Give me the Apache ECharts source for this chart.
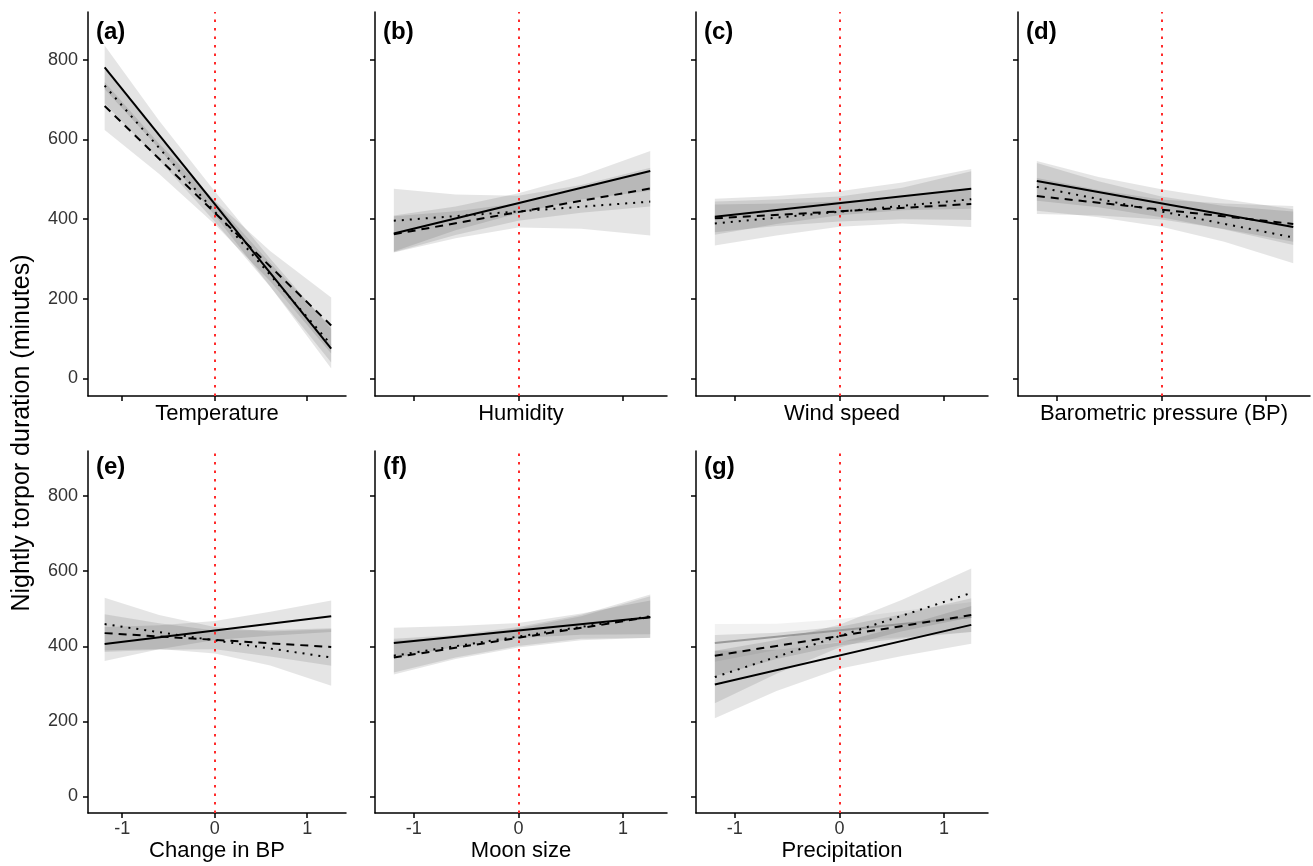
<!DOCTYPE html>
<html>
<head>
<meta charset="utf-8">
<title>Nightly torpor duration</title>
<script src="https://cdn.jsdelivr.net/npm/echarts@6/dist/echarts.min.js"></script>
<style>
    html,body{margin:0;padding:0;background:#fff;}
    #chart{width:1313px;height:866px;}
</style>
</head>
<body>
<div id="chart"></div>
<script>
// x positions where the bands are read, and line end points
const BAND_X=[-1.19,-0.6,0,0.6,1.26];
const LINE_X=[-1.19,1.26];
const X_TICKS=[-1,0,1];
const Y_TICKS=[0,200,400,600,800];

// (a) Temperature
const tempSolid=[781,75], tempDashed=[684,133], tempDotted=[735,85];
const tempSolidLo=[726,577,410,231,25], tempSolidHi=[836,647,470,301,125];
const tempDashedLo=[624,513,387,244,63], tempDashedHi=[744,589,447,320,203];
const tempDottedLo=[690,548,394,230,40], tempDottedHi=[780,608,444,290,130];

// (b) Humidity
const humSolid=[364,521], humDashed=[362,477], humDotted=[396,444];
const humSolidLo=[319,372,415,449,471], humSolidHi=[409,432,465,509,571];
const humDashedLo=[317,360,396,416,432], humDashedHi=[407,420,440,476,522];
const humDottedLo=[316,352,379,376,359], humDottedHi=[476,462,459,486,529];

// (c) Wind speed
const windSolid=[406,476], windDashed=[402,438], windDotted=[389,450];
const windSolidLo=[361,388,410,422,426], windSolidHi=[451,458,470,492,526];
const windDashedLo=[367,383,394,400,398], windDashedHi=[437,439,444,456,478];
const windDottedLo=[334,359,381,389,380], windDottedHi=[444,449,457,479,520];

// (d) Barometric pressure
const bpSolid=[496,380], bpDashed=[458,388], bpDotted=[481,354];
const bpSolidLo=[446,430,405,374,335], bpSolidHi=[546,506,475,450,425];
const bpDashedLo=[413,409,399,375,343], bpDashedHi=[503,473,449,439,433];
const bpDottedLo=[421,405,381,343,289], bpDottedHi=[541,495,457,433,419];

// (e) Change in BP
const dbpSolid=[406,480], dbpDashed=[435,398], dbpDotted=[459,370];
const dbpSolidLo=[361,392,417,428,438], dbpSolidHi=[451,456,467,492,522];
const dbpDashedLo=[385,391,392,373,348], dbpDashedHi=[485,461,442,443,448];
const dbpDottedLo=[389,393,381,349,295], dbpDottedHi=[529,483,451,439,445];

// (f) Moon size
const moonSolid=[409,477], moonDashed=[370,478], moonDotted=[375,480];
const moonSolidLo=[369,398,422,431,432], moonSolidHi=[449,454,462,487,522];
const moonDashedLo=[325,366,397,416,423], moonDashedHi=[415,426,447,480,533];
const moonDottedLo=[330,370,401,420,422], moonDottedHi=[420,430,451,484,538];

// (g) Precipitation (has an extra grey line)
const precSolid=[298,457], precDashed=[375,483], precDotted=[318,542], precGrey=[409,478];
const precSolidLo=[208,281,340,374,407], precSolidHi=[388,391,410,454,507];
const precDashedLo=[320,366,402,421,438], precDashedHi=[430,436,452,485,528];
const precDottedLo=[248,327,397,440,477], precDottedHi=[388,417,457,524,607];
const precGreyLo=[359,390,412,424,438], precGreyHi=[459,460,472,494,518];

const FONT='"Liberation Sans", Arial, Helvetica, sans-serif';
const BAND='rgba(0,0,0,0.1)';
const BAND_LIGHT='rgba(0,0,0,0.05)';
const STYLES={
    solid:{color:'#000',type:'solid'},
    dashed:{color:'#000',type:[8,6]},
    dotted:{color:'#000',type:[2,6]},
    grey:{color:'#999',type:'solid'}
};

// plot boxes: columns (left,width) and rows (top,height)
const COLS=[[88,258],[375,292],[696,292],[1018,292]];
const ROWS=[[12,384],[451,362]];

const panels=[
    {tag:'(a)',name:'Temperature',col:0,row:0,
        lines:[['solid',tempSolid],['dashed',tempDashed],['dotted',tempDotted]],
        bands:[[tempSolidLo,tempSolidHi,BAND],[tempDashedLo,tempDashedHi,BAND],[tempDottedLo,tempDottedHi,BAND]]},
    {tag:'(b)',name:'Humidity',col:1,row:0,
        lines:[['solid',humSolid],['dashed',humDashed],['dotted',humDotted]],
        bands:[[humSolidLo,humSolidHi,BAND],[humDashedLo,humDashedHi,BAND],[humDottedLo,humDottedHi,BAND]]},
    {tag:'(c)',name:'Wind speed',col:2,row:0,
        lines:[['solid',windSolid],['dashed',windDashed],['dotted',windDotted]],
        bands:[[windSolidLo,windSolidHi,BAND],[windDashedLo,windDashedHi,BAND],[windDottedLo,windDottedHi,BAND]]},
    {tag:'(d)',name:'Barometric pressure (BP)',col:3,row:0,
        lines:[['solid',bpSolid],['dashed',bpDashed],['dotted',bpDotted]],
        bands:[[bpSolidLo,bpSolidHi,BAND],[bpDashedLo,bpDashedHi,BAND],[bpDottedLo,bpDottedHi,BAND]]},
    {tag:'(e)',name:'Change in BP',col:0,row:1,
        lines:[['solid',dbpSolid],['dashed',dbpDashed],['dotted',dbpDotted]],
        bands:[[dbpSolidLo,dbpSolidHi,BAND],[dbpDashedLo,dbpDashedHi,BAND],[dbpDottedLo,dbpDottedHi,BAND]]},
    {tag:'(f)',name:'Moon size',col:1,row:1,
        lines:[['solid',moonSolid],['dashed',moonDashed],['dotted',moonDotted]],
        bands:[[moonSolidLo,moonSolidHi,BAND],[moonDashedLo,moonDashedHi,BAND],[moonDottedLo,moonDottedHi,BAND]]},
    {tag:'(g)',name:'Precipitation',col:2,row:1,
        lines:[['grey',precGrey],['solid',precSolid],['dashed',precDashed],['dotted',precDotted]],
        bands:[[precGreyLo,precGreyHi,BAND_LIGHT],[precSolidLo,precSolidHi,BAND],[precDashedLo,precDashedHi,BAND],[precDottedLo,precDottedHi,BAND]]}
];

// draws the whole band polygon once, from the first data item
function bandRenderer(fill){
    return function(params,api){
        if(params.dataIndexInside!==0) return null;
        let n=params.dataInsideLength;
        let top=[],bottom=[];
        for(let i=0;i<n;i++){
            top.push(api.coord([api.value(0,i),api.value(2,i)]));
            bottom.unshift(api.coord([api.value(0,i),api.value(1,i)]));
        }
        return {type:'polygon',shape:{points:top.concat(bottom)},style:{fill:fill}};
    };
}

const grids=[],xAxes=[],yAxes=[],series=[],graphics=[];

panels.forEach(function(p,i){
    let col=COLS[p.col],row=ROWS[p.row];
    grids.push({left:col[0],top:row[0],width:col[1],height:row[1]});

    xAxes.push({
        gridIndex:i,type:'value',min:-1.37,max:1.42,
        name:p.name,nameLocation:'middle',nameGap:p.row===0?7:27,
        nameTextStyle:{fontSize:22,color:'#000',fontFamily:FONT},
        splitLine:{show:false},
        axisLine:{onZero:false,lineStyle:{color:'#000',width:1.5}},
        axisTick:{customValues:X_TICKS,length:5,lineStyle:{color:'#000',width:1.5}},
        axisLabel:{show:p.row===1,customValues:X_TICKS,fontSize:18,color:'#333',margin:7,fontFamily:FONT}
    });
    yAxes.push({
        gridIndex:i,type:'value',min:-44,max:920,
        splitLine:{show:false},
        axisLine:{onZero:false,lineStyle:{color:'#000',width:1.5}},
        axisTick:{customValues:Y_TICKS,length:5,lineStyle:{color:'#000',width:1.5}},
        axisLabel:{show:p.col===0,customValues:Y_TICKS,fontSize:18,color:'#333',margin:10,fontFamily:FONT}
    });

    p.bands.forEach(function(b){
        series.push({
            type:'custom',xAxisIndex:i,yAxisIndex:i,silent:true,z:1,
            renderItem:bandRenderer(b[2]),
            encode:{x:0,y:[1,2]},
            data:BAND_X.map(function(x,k){return [x,b[0][k],b[1][k]];})
        });
    });

    p.lines.forEach(function(l){
        let st=STYLES[l[0]];
        series.push({
            type:'line',xAxisIndex:i,yAxisIndex:i,silent:true,z:3,
            symbol:'none',
            lineStyle:{width:2,color:st.color,type:st.type,cap:'butt'},
            data:LINE_X.map(function(x,k){return [x,l[1][k]];})
        });
    });

    // red dotted reference line at 0
    series.push({
        type:'line',xAxisIndex:i,yAxisIndex:i,data:[],
        markLine:{
            silent:true,symbol:'none',label:{show:false},z:6,
            lineStyle:{color:'#ff2b2b',type:[2.5,6],width:2},
            data:[{xAxis:0}]
        }
    });

    graphics.push({
        type:'text',left:col[0]+8,top:p.row===0?20:455,
        style:{text:p.tag,font:'bold 24px '+FONT,fill:'#000'}
    });
});

graphics.push({
    type:'text',x:22,y:433,rotation:Math.PI/2,
    style:{text:'Nightly torpor duration (minutes)',font:'25px '+FONT,fill:'#000',align:'center',verticalAlign:'middle'}
});

const chart=echarts.init(document.getElementById('chart'));
chart.setOption({
    animation:false,
    backgroundColor:'#fff',
    grid:grids,
    xAxis:xAxes,
    yAxis:yAxes,
    series:series,
    graphic:graphics
});
</script>
</body>
</html>
